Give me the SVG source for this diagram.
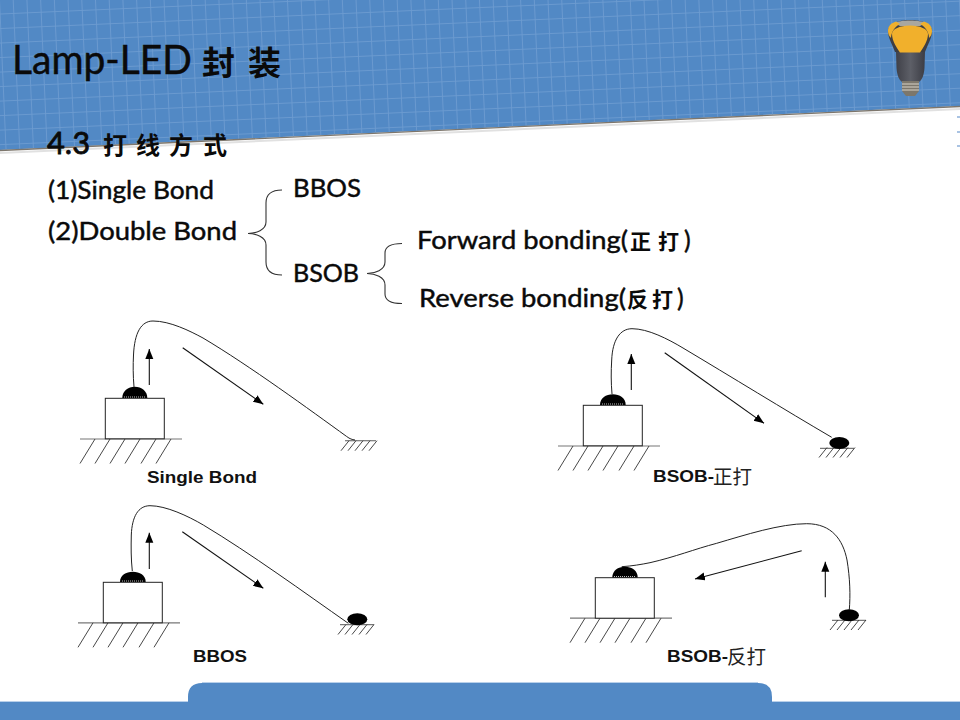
<svg xmlns="http://www.w3.org/2000/svg" width="960" height="720" viewBox="0 0 960 720">
<style>
.t{font-family:"Lato","Open Sans","Noto Sans CJK SC",sans-serif;fill:#0a0a0a;stroke:#0a0a0a;stroke-width:.45}
.c{font-family:"Noto Sans CJK SC",sans-serif;font-weight:700;fill:#0a0a0a}
.l{font-family:"Liberation Sans","Noto Sans CJK SC",sans-serif;font-weight:700;font-size:17px;fill:#111}
.k{font-family:"Noto Sans CJK SC",sans-serif;font-weight:400;font-size:19.500px;fill:#222}
.w{fill:none;stroke:#222;stroke-width:1}
.a{fill:none;stroke:#111;stroke-width:1.1;marker-end:url(#ah)}
.b{fill:none;stroke:#333;stroke-width:1.1}
.box{fill:#fff;stroke:#222;stroke-width:1}
.g{stroke:#777;stroke-width:1.2;fill:none}
.h{stroke:#333;stroke-width:.9;fill:none}
.d{fill:#000}
.dots{stroke:#bbb;stroke-width:1;stroke-dasharray:1 1;fill:none}
</style>
<defs>
<pattern id="grid" width="13.7" height="14.5" patternUnits="userSpaceOnUse" patternTransform="rotate(-2.5)">
<path d="M13.2 0V14.5M0 14H13.7" stroke="#6c9bd0" stroke-width=".9" fill="none"/>
</pattern>
<marker id="ah" markerUnits="userSpaceOnUse" markerWidth="12" markerHeight="10" refX="10" refY="4" orient="auto"><path d="M0 0L10 4L0 8Z" fill="#000"/></marker>
<linearGradient id="metal" x1="0" x2="1" y1="0" y2="0"><stop offset="0" stop-color="#3f4048"/><stop offset=".5" stop-color="#5d5f67"/><stop offset="1" stop-color="#3c3d45"/></linearGradient>
<g id="bigHatch"><path class="h" d="M15 0L0 24.500M30 0L15 24.500M45 0L30 24.500M60 0L45 24.500M76 0L61 24.500M91 0L76 24.500"/></g>
<g id="smallHatch"><path class="h" d="M8 0L0 10M15 0L7 10M22 0L14 10M29 0L21 10M36 0L28 10"/></g>
</defs>

<rect width="960" height="720" fill="#fff"/>
<g id="header">
<path d="M0 152L960 108V110L0 154Z" fill="#aaa" opacity=".35"/>
<path d="M0 0H960V106L0 150Z" fill="#5289c5"/>
<path d="M0 0H960V106L0 150Z" fill="url(#grid)"/>
<path d="M0 150.500L960 106.500" stroke="#7d766c" stroke-width="1.300" fill="none"/>
<path d="M957 117h3M957 132h3M957 146h3" stroke="#a9c3e3" stroke-width="2"/>
</g>
<g id="lamp">
<path d="M896 51H925L924.500 68C924 75 922 80 919 82H902C899 80 897 75 896.500 68Z" fill="url(#metal)"/>
<path d="M902 81H919V91L915 96H906L902 91Z" fill="#7c776c"/>
<path d="M902 84H919M902 87H919M902 90H919" stroke="#d8d4c8" stroke-width="1"/>
<path d="M888 31C888 24 897 20 910 20C923 20 932 24 932 31C932 38 927 46 925 52H895C893 46 888 38 888 31Z" fill="#3d3e44"/>
<path d="M894 23C900 19.500 920 19.500 926 23L920 26H900Z" fill="#a9a79f"/>
<path d="M888 31C888 26 891 23 896 21.500L900 24C894 27 891 33 891 38C889 36 888 34 888 31Z" fill="#efb02e"/>
<path d="M932 31C932 26 929 23 924 21.500L920 24C926 27 929 33 929 38C931 36 932 34 932 31Z" fill="#efb02e"/>
<path d="M892 34C892 29 900 25.500 910 25.500C920 25.500 928 29 928 34C928 41 923 48 920 52.500H900C897 48 892 41 892 34Z" fill="#f1b02c"/>
</g>
<g id="footer">
<path d="M0 702H188V697Q188 683 202 683H758Q772 683 772 697V702H960V720H0Z" fill="#5289c5"/>
<path d="M0 701.500H188M772 701.500H960M202 682.500H758" stroke="#b9d0ea" stroke-width="1" fill="none"/>
</g>

<g id="title">
<text class="t" x="12" y="74" font-size="40" textLength="180" lengthAdjust="spacingAndGlyphs">Lamp-LED</text>
<text class="c" x="202 248" y="75" font-size="33">封装</text>
</g>
<g id="subtitle">
<text class="t" x="47" y="153.500" font-size="31" style="stroke-width:.8" textLength="43" lengthAdjust="spacingAndGlyphs">4.3</text>
<text class="c" x="103 136 169 203" y="154" font-size="24">打线方式</text>
</g>
<g id="list">
<text class="t" x="48" y="199" font-size="25" textLength="166" lengthAdjust="spacingAndGlyphs">(1)Single Bond</text>
<text class="t" x="48" y="240" font-size="25" textLength="189" lengthAdjust="spacingAndGlyphs">(2)Double Bond</text>
<text class="t" x="293" y="197" font-size="25" textLength="68" lengthAdjust="spacingAndGlyphs">BBOS</text>
<text class="t" x="293" y="281.500" font-size="25" textLength="66" lengthAdjust="spacingAndGlyphs">BSOB</text>
<text class="t" x="417" y="248.500" font-size="25" textLength="211" lengthAdjust="spacingAndGlyphs">Forward bonding(</text>
<text class="c" x="630 658" y="249" font-size="21">正打</text>
<text class="t" x="684" y="248.500" font-size="25">)</text>
<text class="t" x="419" y="306.500" font-size="25" textLength="207" lengthAdjust="spacingAndGlyphs">Reverse bonding(</text>
<text class="c" x="627 652" y="307" font-size="21">反打</text>
<text class="t" x="677" y="306.500" font-size="25">)</text>
</g>
<g id="braces">
<path class="b" d="M248 233.500C256 233.500 266 230 266 222V203C266 194 272 190 282 190"/>
<path class="b" d="M248 233.500C256 233.500 266 237 266 245V262C266 271 272 275 282 275"/>
<path class="b" d="M367 273.500C375 273.500 385 270 385 262V253C385 247 391 243.500 402 243.500"/>
<path class="b" d="M367 273.500C375 273.500 385 277 385 285V294C385 300 391 303.500 402 303.500"/>
</g>

<g id="single-bond">
<path class="g" d="M80 439H182"/><use href="#bigHatch" x="80" y="439"/>
<rect class="box" x="105.300" y="398.300" width="59" height="40.500"/>
<path class="d" d="M122.300 398C122.300 391 128 386.700 134.800 386.700C141.600 386.700 147.300 391 147.300 398Z"/>
<path class="dots" d="M124 397H146"/>
<path class="g" d="M345 440.700H376" stroke-width="1"/><use href="#smallHatch" x="341" y="440.700"/>
<text class="l" x="147" y="483" textLength="110" lengthAdjust="spacingAndGlyphs">Single Bond</text>
</g>
<g id="bsob-forward">
<path class="g" d="M558 446H660"/><use href="#bigHatch" x="558" y="446"/>
<rect class="box" x="583.300" y="405.300" width="59" height="40.500"/>
<path class="d" d="M600 405C600 398 606 394.300 612.800 394.300C619.600 394.300 625.700 398 625.700 405Z"/>
<path class="dots" d="M602 404H624"/>
<path class="g" d="M820 448.300H854" stroke-width="1"/><use href="#smallHatch" x="819" y="447.500"/>
<ellipse class="d" cx="839.300" cy="443" rx="10" ry="6"/>
<text class="l" x="653" y="482" textLength="61" lengthAdjust="spacingAndGlyphs">BSOB-</text>
<text class="k" x="713" y="484">正打</text>
</g>
<g id="bbos">
<path class="g" d="M78 622.800H180"/><use href="#bigHatch" x="78" y="622.800"/>
<rect class="box" x="103.300" y="582.300" width="59" height="40.500"/>
<path class="d" d="M120 582C120 575 126 571.700 132.800 571.700C139.600 571.700 145.700 575 145.700 582Z"/>
<path class="dots" d="M122 581H144"/>
<path class="g" d="M340 624.700H374" stroke-width="1"/><use href="#smallHatch" x="338" y="624.500"/>
<ellipse class="d" cx="357.300" cy="619.300" rx="10" ry="6"/>
<text class="l" x="193" y="662" textLength="54" lengthAdjust="spacingAndGlyphs">BBOS</text>
</g>
<g id="bsob-reverse">
<path class="g" d="M570 618.200H672"/><use href="#bigHatch" x="570" y="618.200"/>
<rect class="box" x="595.300" y="577.700" width="59" height="40.500"/>
<path class="d" d="M612.300 577.500C612.300 570.500 618 566.700 625 566.700C631.800 566.700 637.700 570.500 637.700 577.500Z"/>
<path class="dots" d="M614 576.500H636"/>
<path class="g" d="M832 620.300H866" stroke-width="1"/><use href="#smallHatch" x="830" y="620"/>
<ellipse class="d" cx="849" cy="615.300" rx="10" ry="6"/>
<text class="l" x="667" y="662" textLength="61" lengthAdjust="spacingAndGlyphs">BSOB-</text>
<text class="k" x="727" y="664">反打</text>
</g>

<g id="connectors">
<path class="w" d="M134 387C133 375 133 365 133.500 355C134.500 333 141 321 153 321C170 321 190 331 203 338C250 366 310 410 346.700 436.500C350 439 352 439.500 355 440"/>
<path class="a" d="M149.300 385V349"/>
<path class="a" d="M182.700 347.700L263.300 404.300"/>
<path class="w" d="M612 394C611 382 611 372 611.700 360C612.500 340 620 328.700 632 328.700C648 328.700 668 339 683 348C730 376 785 410 831.700 437.300"/>
<path class="a" d="M631.300 390V354"/>
<path class="a" d="M664.700 352.700L764 423.300"/>
<path class="w" d="M132.300 571C131 559 131 547 131.300 535C132 517 138 505.700 150 505.700C166 505.700 188 516 203.300 525C250 553 305 593 348.300 623.300"/>
<path class="a" d="M149.300 569V532.700"/>
<path class="a" d="M182.300 531.700L263.300 588.300"/>
<path class="w" d="M621.700 566.700C632 566 641 564.500 650 562.700C675 557 695 549 716.700 543.300C745 535 780 523.700 806.700 523.700C832 523.700 843 540 847 560C850 578 850.500 595 849.300 610"/>
<path class="a" d="M825.300 597.300V561.700"/>
<path class="a" d="M801.700 550.700L695 579"/>
</g>
</svg>
